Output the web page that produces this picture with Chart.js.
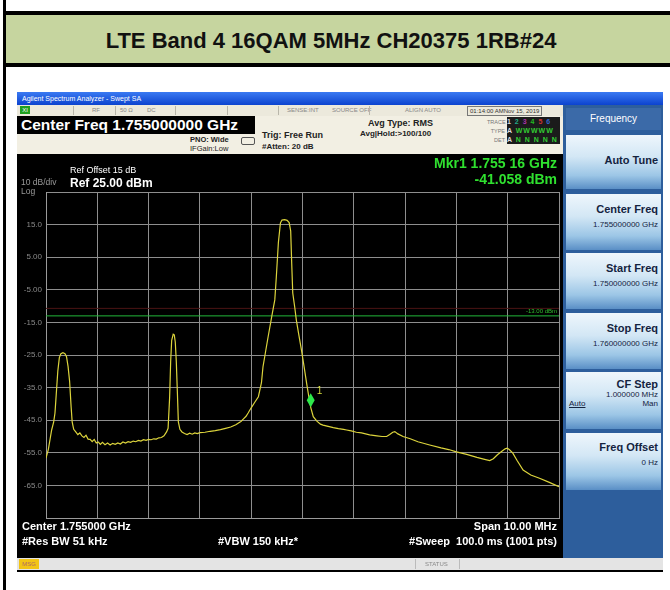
<!DOCTYPE html>
<html>
<head>
<meta charset="utf-8">
<script src="https://cdn.jsdelivr.net/npm/chart.js@4.4.1/dist/chart.umd.min.js"></script>
<style>
  body { margin: 0; background: #fff; font-family: "Liberation Sans", Arial, sans-serif; }
  #page { position: relative; width: 670px; height: 590px; overflow: hidden; background: #fff; }
  .abs { position: absolute; }
  .blk { position: absolute; background: #000; }
  #header { left: 6px; top: 15px; width: 664px; height: 48px; background: #c6d59f; padding-right: 14px; box-sizing: border-box;
    font-weight: bold; font-size: 22px; line-height: 52px; text-align: center; color: #111; }
  #sa { left: 17px; top: 92px; width: 646px; height: 480px; background: #000; }
  #titlebar { left: 0; top: 0; width: 646px; height: 13px; background: linear-gradient(#3a7af2, #0c43cf);
    color: #fff; font-size: 7px; line-height: 13px; padding-left: 5px; box-sizing: border-box; }
  #statusrow { left: 0; top: 13px; width: 546px; height: 11px; background: #ece9dc; color: #888;
    font-size: 6px; line-height: 11px; }
  #statusrow span { position: absolute; top: 0; }
  .sep { position: absolute; top: 1px; width: 1px; height: 9px; background: #b9b6aa; }
  #cream { left: 0; top: 24px; width: 546px; height: 38px; background: #f2efe3; }
  #cfbox { left: 0; top: 24px; width: 238px; height: 18px; background: #000; color: #fff;
    font-weight: bold; font-size: 15.5px; line-height: 18px; padding-left: 4px; box-sizing: border-box; white-space: nowrap; }
  .dark { color: #222; font-weight: bold; }
  #panel { left: 546px; top: 13px; width: 100px; height: 453px; background: #2d5e9c; }
  .btn { position: absolute; left: 3px; width: 95px; background: linear-gradient(#eef6fc 0%, #d3e7f5 40%, #9cc6e6 75%, #5a8fc6 100%);
    color: #14233f; text-align: right; box-sizing: border-box; padding-right: 3px; }
  .btn b { display: block; font-size: 11px; }
  .btn i { display: block; font-style: normal; font-size: 8px; }
  #freqtab { position: absolute; left: 3px; top: 3px; width: 95px; height: 22px; background: #3b6aa8;
    color: #fff; font-size: 10px; line-height: 22px; text-align: center; }
  .wt { color: #fff; font-weight: bold; position: absolute; white-space: nowrap; }
  .gr { color: #2fe02f; font-weight: bold; position: absolute; white-space: nowrap; text-align: right; }
  #msgbar { left: 0; top: 466px; width: 646px; height: 12px; background: #e4e4e4; }
</style>
</head>
<body>
<div id="page">
  <div class="blk" style="left:3px;top:0;width:3px;height:590px"></div>
  <div class="blk" style="left:3px;top:11px;width:667px;height:4px"></div>
  <div id="header" class="abs">LTE Band 4 16QAM 5MHz CH20375 1RB#24</div>
  <div class="blk" style="left:3px;top:63px;width:667px;height:4px"></div>

  <div id="sa" class="abs">
    <div id="titlebar" class="abs">Agilent Spectrum Analyzer - Swept SA</div>
    <div id="statusrow" class="abs">
      <span style="left:3px;top:1px;width:10px;height:8px;background:#1fa11f;color:#fff;line-height:8px;text-align:center">XI</span>
      <div class="sep" style="left:56px"></div>
      <span style="left:75px">RF</span>
      <div class="sep" style="left:98px"></div>
      <span style="left:103px">50 Ω</span>
      <span style="left:130px">DC</span>
      <div class="sep" style="left:158px"></div>
      <div class="sep" style="left:210px"></div>
      <div class="sep" style="left:261px"></div>
      <span style="left:270px">SENSE:INT</span>
      <span style="left:315px">SOURCE OFF</span>
      <div class="sep" style="left:352px"></div>
      <span style="left:388px">ALIGN AUTO</span>
      <span style="left:450px;top:1px;height:8px;line-height:8px;border:1px solid #777;color:#333;padding:0 2px">01:14:00 AMNov 15, 2019</span>
    </div>
    <div id="cream" class="abs"></div>
    <div id="cfbox" class="abs">Center Freq 1.755000000 GHz</div>
    <div class="abs dark" style="left:173px;top:43px;font-size:7.5px">PNO: Wide</div>
    <div class="abs dark" style="left:173px;top:52px;font-size:7.5px;font-weight:normal">IFGain:Low</div>
    <div class="abs" style="left:224px;top:45px;width:12px;height:6px;border:1px solid #555;border-radius:2px"></div>
    <div class="abs dark" style="left:245px;top:38px;font-size:9px">Trig: Free Run</div>
    <div class="abs dark" style="left:245px;top:50px;font-size:8px">#Atten: 20 dB</div>
    <div class="abs dark" style="left:351px;top:26px;font-size:9px">Avg Type: RMS</div>
    <div class="abs dark" style="left:343px;top:37px;font-size:8px">Avg|Hold:&gt;100/100</div>
    <div class="abs" style="left:470px;top:26px;font-size:5.5px;color:#777;line-height:9px;text-align:right;width:18px">TRACE<br>TYPE<br>DET</div>
    <div class="abs" style="left:490px;top:25px;width:53px;height:27px;background:#1b1b1b;font-size:7px;line-height:9px;font-weight:bold;letter-spacing:1px">
      <span style="color:#ddd">1</span> <span style="color:#2a8">2</span> <span style="color:#a3a">3</span> <span style="color:#2b2">4</span> <span style="color:#c33">5</span> <span style="color:#36c">6</span><br>
      <span style="color:#ddd">A</span> <span style="color:#3c3">WWWWW</span><br>
      <span style="color:#ddd">A</span> <span style="color:#3c3">N N N N N</span>
    </div>

    <div id="panel" class="abs">
      <div id="freqtab">Frequency</div>
      <div class="btn" style="top:30px;height:54px;padding-top:19px"><b>Auto Tune</b></div>
      <div class="btn" style="top:89px;height:56px;padding-top:9px"><b>Center Freq</b><i style="margin-top:5px">1.755000000 GHz</i></div>
      <div class="btn" style="top:148px;height:56px;padding-top:9px"><b>Start Freq</b><i style="margin-top:5px">1.750000000 GHz</i></div>
      <div class="btn" style="top:208px;height:56px;padding-top:9px"><b>Stop Freq</b><i style="margin-top:5px">1.760000000 GHz</i></div>
      <div class="btn" style="top:267px;height:57px;padding-top:6px"><b>CF Step</b><i>1.000000 MHz</i><i><span style="float:left;text-decoration:underline;padding-left:3px">Auto</span>Man</i></div>
      <div class="btn" style="top:328px;height:57px;padding-top:8px"><b>Freq Offset</b><i style="margin-top:5px">0 Hz</i></div>
    </div>

    <canvas id="spec" width="546" height="404" style="position:absolute;left:0;top:62px"></canvas>

    <div class="wt" style="left:53px;top:73px;font-size:9px;font-weight:normal">Ref Offset 15 dB</div>
    <div class="wt" style="left:53px;top:84px;font-size:12px">Ref 25.00 dBm</div>
    <div class="abs" style="left:4px;top:85px;font-size:8.5px;color:#999">10 dB/div</div>
    <div class="abs" style="left:4px;top:94px;font-size:8.5px;color:#999">Log</div>
    <div class="gr" style="right:106px;top:63px;font-size:14px">Mkr1 1.755 16 GHz</div>
    <div class="gr" style="right:106px;top:79px;font-size:14px">-41.058 dBm</div>
    <div class="wt" style="left:5px;top:428px;font-size:11px">Center 1.755000 GHz</div>
    <div class="wt" style="left:5px;top:443px;font-size:11px">#Res BW 51 kHz</div>
    <div class="wt" style="left:201px;top:443px;font-size:11px">#VBW 150 kHz*</div>
    <div class="wt" style="right:106px;top:428px;font-size:11px">Span 10.00 MHz</div>
    <div class="wt" style="right:106px;top:443px;font-size:11px">#Sweep&nbsp; 100.0 ms (1001 pts)</div>

    <div id="msgbar" class="abs">
      <div class="abs" style="left:2px;top:1px;width:20px;height:10px;background:#f2c515;color:#a66;font-size:6px;line-height:10px;text-align:center">MSG</div>
      <div class="abs" style="left:408px;top:0;font-size:6px;line-height:12px;color:#888">STATUS</div>
      <div class="abs" style="left:398px;top:1px;width:1px;height:10px;background:#bbb"></div>
      <div class="abs" style="left:442px;top:1px;width:1px;height:10px;background:#bbb"></div>
    </div>
  </div>
</div>

<script>
// swept trace, 1750 - 1760 MHz
const freqMHz = [
  1750.000, 1750.045, 1750.110, 1750.150, 1750.175, 1750.200, 1750.230, 1750.260, 1750.290, 1750.330,
  1750.370, 1750.400, 1750.430, 1750.460, 1750.490, 1750.510, 1750.540, 1750.580, 1750.620, 1750.660,
  1750.700, 1750.740, 1750.780, 1750.820, 1750.860, 1750.900, 1750.940, 1750.980, 1751.020, 1751.060,
  1751.100, 1751.150, 1751.200, 1751.250, 1751.300, 1751.350, 1751.400, 1751.450, 1751.500, 1751.550,
  1751.600, 1751.650, 1751.700, 1751.750, 1751.800, 1751.850, 1751.900, 1751.950, 1752.000, 1752.050,
  1752.100, 1752.150, 1752.200, 1752.250, 1752.300, 1752.350, 1752.380, 1752.410, 1752.430, 1752.450,
  1752.480, 1752.500, 1752.520, 1752.540, 1752.560, 1752.580, 1752.610, 1752.650, 1752.700, 1752.750,
  1752.800, 1752.850, 1752.900, 1752.950, 1753.000, 1753.100, 1753.200, 1753.300, 1753.400, 1753.500,
  1753.600, 1753.700, 1753.760, 1753.800, 1753.850, 1753.900, 1753.940, 1754.000, 1754.070, 1754.140,
  1754.200, 1754.230, 1754.280, 1754.330, 1754.400, 1754.460, 1754.490, 1754.530, 1754.570, 1754.600,
  1754.650, 1754.700, 1754.740, 1754.770, 1754.790, 1754.810, 1754.850, 1754.880, 1754.930, 1754.980,
  1755.030, 1755.080, 1755.120, 1755.160, 1755.210, 1755.280, 1755.350, 1755.400, 1755.500, 1755.600,
  1755.700, 1755.800, 1755.860, 1755.950, 1756.050, 1756.150, 1756.310, 1756.450, 1756.550, 1756.640,
  1756.700, 1756.760, 1756.800, 1756.860, 1756.960, 1757.100, 1757.250, 1757.480, 1757.700, 1757.850,
  1758.000, 1758.200, 1758.400, 1758.550, 1758.650, 1758.720, 1758.800, 1758.880, 1758.950, 1758.990,
  1759.030, 1759.100, 1759.180, 1759.300, 1759.450, 1759.620, 1759.800, 1760.000
];
const levelDbm = [
  -56.6, -54.0, -48.0, -45.5, -42.8, -37.0, -30.0, -25.8, -24.6, -24.3,
  -24.6, -25.5, -28.5, -33.0, -41.0, -45.5, -47.8, -48.6, -49.4, -48.9,
  -49.8, -50.3, -49.6, -50.8, -50.9, -51.6, -50.9, -52.0, -51.7, -52.4,
  -51.8, -52.5, -52.0, -52.6, -52.1, -52.4, -52.0, -52.3, -51.7, -52.0,
  -51.6, -51.8, -51.4, -51.6, -51.2, -51.4, -51.0, -51.2, -50.9, -51.0,
  -50.7, -50.8, -50.4, -50.3, -49.8, -48.6, -47.5, -38.0, -27.0, -20.5,
  -18.6, -18.8, -21.0, -27.0, -36.0, -45.5, -47.8, -48.6, -49.1, -49.4,
  -49.0, -49.3, -48.9, -49.1, -48.8, -48.7, -48.4, -48.2, -47.9, -47.5,
  -47.1, -46.4, -45.8, -45.4, -44.6, -43.8, -42.8, -41.2, -39.5, -37.8,
  -33.5, -28.6, -24.0, -19.4, -13.2, -8.1, -1.0, 9.5, 15.5, 16.4,
  16.5, 16.3, 15.6, 13.0, 3.0, -6.0, -10.5, -14.3, -19.0, -23.5,
  -28.5, -33.6, -37.5, -41.06, -43.9, -45.3, -46.2, -46.5, -46.9, -47.3,
  -47.6, -47.8, -48.0, -48.3, -48.7, -48.9, -49.5, -49.8, -50.0, -50.0,
  -49.4, -48.7, -48.5, -49.2, -50.0, -50.7, -51.6, -52.6, -53.5, -54.0,
  -54.7, -55.5, -56.4, -57.0, -57.4, -56.8, -55.6, -54.6, -53.8, -53.6,
  -54.0, -55.1, -57.3, -60.3, -61.8, -62.8, -64.0, -65.4
];

const displayLineDbm = -13.0;
const displayLineLabel = ["-13.00 dBm"];
const refLineDbm = -10.7;
const markerFreqMHz = [1755.16];
const markerLevelDbm = [-41.058];
const markerNames = ["1"];

const yTickValues = [15, 5, -5, -15, -25, -35, -45, -55, -65];
const yTickLabels = ["15.0", "5.00", "-5.00", "-15.0", "-25.0", "-35.0", "-45.0", "-55.0", "-65.0"];

const traceData = freqMHz.map((f, i) => ({ x: f, y: levelDbm[i] }));

const markerPlugin = {
  id: "markerPlugin",
  afterDatasetsDraw(chart) {
    const { ctx, scales: { x, y } } = chart;
    ctx.save();
    // display line label
    ctx.fillStyle = "#2fbf2f";
    ctx.font = "6px 'Liberation Sans'";
    ctx.textAlign = "right";
    ctx.textBaseline = "bottom";
    ctx.fillText(displayLineLabel[0], x.right - 2, y.getPixelForValue(displayLineDbm) - 2);
    // marker diamond sits on top of the trace point
    markerFreqMHz.forEach((f, i) => {
      const px = x.getPixelForValue(f);
      const py = y.getPixelForValue(markerLevelDbm[i]);
      ctx.beginPath();
      ctx.moveTo(px, py);
      ctx.lineTo(px + 4, py - 7);
      ctx.lineTo(px, py - 14);
      ctx.lineTo(px - 4, py - 7);
      ctx.closePath();
      ctx.fillStyle = "#2ee84a";
      ctx.fill();
      ctx.fillStyle = "#d6dc3c";
      ctx.font = "10px 'Liberation Sans'";
      ctx.textAlign = "left";
      ctx.textBaseline = "middle";
      ctx.fillText(markerNames[i], px + 6, py - 16);
    });
    ctx.restore();
  }
};

const ctx = document.getElementById("spec").getContext("2d");
const chart = new Chart(ctx, {
  type: "line",
  data: {
    datasets: [
      {
        label: "Trace 1",
        data: traceData,
        borderColor: "#dcd43c",
        borderWidth: 1.2,
        pointRadius: 0,
        tension: 0
      },
      {
        label: "Display line",
        data: [{ x: 1750, y: displayLineDbm }, { x: 1760, y: displayLineDbm }],
        borderColor: "#22b83a",
        borderWidth: 1,
        pointRadius: 0
      },
      {
        label: "Ref line",
        data: [{ x: 1750, y: refLineDbm }, { x: 1760, y: refLineDbm }],
        borderColor: "#4a1414",
        borderWidth: 1,
        pointRadius: 0
      }
    ]
  },
  options: {
    responsive: false,
    animation: false,
    layout: { padding: { top: 38, right: 4, bottom: 40, left: 0 } },
    plugins: { legend: { display: false }, tooltip: { enabled: false } },
    scales: {
      x: {
        type: "linear",
        min: 1750,
        max: 1760,
        ticks: { stepSize: 1, display: false },
        grid: { color: "#8e8e8e", drawTicks: false },
        border: { color: "#9a9a9a" },
        afterFit: (axis) => { axis.height = 0; }
      },
      y: {
        min: -75,
        max: 25,
        ticks: {
          stepSize: 10,
          padding: 4,
          color: "#8a8a8a",
          font: { size: 8, family: "'Liberation Sans'" },
          callback: (v) => {
            const i = yTickValues.indexOf(v);
            return i >= 0 ? yTickLabels[i] : "";
          }
        },
        grid: { color: "#8e8e8e", drawTicks: false },
        border: { color: "#9a9a9a" },
        afterFit: (axis) => { axis.width = 29; }
      }
    }
  },
  plugins: [markerPlugin]
});
</script>
</body>
</html>
